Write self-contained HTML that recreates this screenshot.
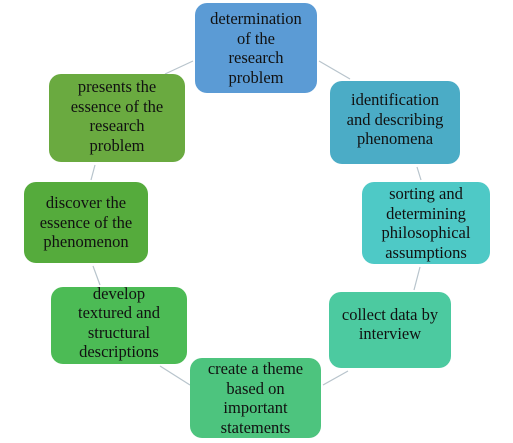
<!DOCTYPE html>
<html><head><style>
body{margin:0;width:513px;height:443px;background:#fff;position:relative;overflow:hidden}
.b{position:absolute;border-radius:12px;display:flex;align-items:center;justify-content:center;text-align:center;font-family:"Liberation Serif",serif;font-size:16.5px;line-height:19.5px;color:#111;box-sizing:border-box;padding:0 2px;white-space:nowrap}
</style></head><body>
<svg width="513" height="443" style="position:absolute;left:0;top:0">
<g stroke="#b8c4cc" stroke-width="1.2" fill="none">
<line x1="193" y1="61" x2="165" y2="74"/>
<line x1="319" y1="61" x2="350" y2="79"/>
<line x1="417" y1="167" x2="421" y2="180"/>
<line x1="420" y1="267" x2="414" y2="290"/>
<line x1="348" y1="371" x2="323" y2="385"/>
<line x1="160" y1="366" x2="190" y2="385"/>
<line x1="93" y1="266" x2="100" y2="285"/>
<line x1="95" y1="165" x2="91" y2="180"/>
</g></svg>
<div class="b" style="left:195px;top:3px;width:122px;height:90px;background:#5b9bd5">determination<br>of the<br>research<br>problem</div>
<div class="b" style="left:330px;top:81px;width:130px;height:83px;background:#4bacc6;padding-bottom:6px">identification<br>and describing<br>phenomena</div>
<div class="b" style="left:362px;top:182px;width:128px;height:82px;background:#4ec9c6">sorting and<br>determining<br>philosophical<br>assumptions</div>
<div class="b" style="left:329px;top:292px;width:122px;height:76px;background:#4ccaa0;padding-bottom:12px">collect data by<br>interview</div>
<div class="b" style="left:190px;top:358px;width:131px;height:80px;background:#4dc47e">create a theme<br>based on<br>important<br>statements</div>
<div class="b" style="left:51px;top:287px;width:136px;height:77px;background:#4cbb55;padding-bottom:6px">develop<br>textured and<br>structural<br>descriptions</div>
<div class="b" style="left:24px;top:182px;width:124px;height:81px;background:#55ab3c">discover the<br>essence of the<br>phenomenon</div>
<div class="b" style="left:49px;top:74px;width:136px;height:88px;background:#6aaa40;padding-bottom:4px">presents the<br>essence of the<br>research<br>problem</div>
</body></html>
